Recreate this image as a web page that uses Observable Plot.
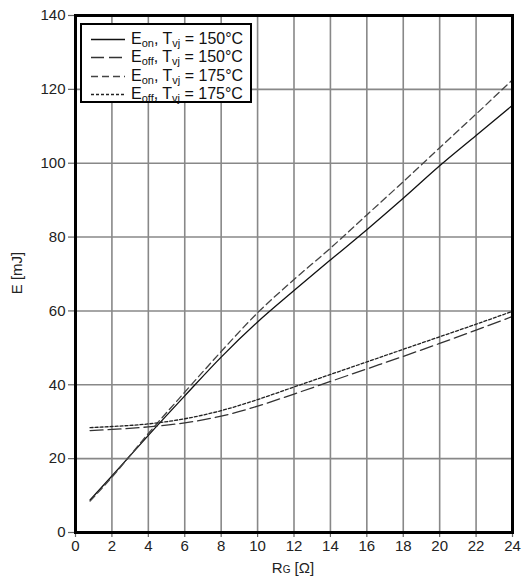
<!DOCTYPE html>
<html><head><meta charset="utf-8">
<script src="https://cdn.jsdelivr.net/npm/d3@7"></script>
<script src="https://cdn.jsdelivr.net/npm/@observablehq/plot@0.6"></script>
<style>
body{margin:0;background:#fff;font-family:"Liberation Sans",Arial,sans-serif}
#wrap{position:relative;width:524px;height:583px}
#legend{position:absolute;left:80px;top:23px;width:168px;height:76px;border:2.5px solid #000;background:#fff;font-size:16px;color:#111}
.row{position:absolute;left:8px;height:18px;line-height:18px;white-space:nowrap}
.row svg{position:absolute;left:0;top:0}
.row span{position:absolute;left:41px;top:0}
sub{font-size:11px;vertical-align:-3px;line-height:0}
</style></head><body><div id="wrap"><div id="chart"></div><div id="legend"></div></div>
<script>
const rg = [0.8, 2, 4, 6, 8, 10, 12, 14, 16, 18, 20, 22, 24];
const eon150 = [8.8, 15.3, 26.3, 37, 47.5, 57, 65.5, 73.8, 82, 90.5, 99.3, 107.5, 115.7];
const eoff150 = [27.6, 27.9, 28.6, 29.7, 31.5, 34.2, 37.5, 40.9, 44.3, 47.7, 51.2, 54.8, 58.5];
const eon175 = [8.5, 15, 26.8, 38, 49, 59.5, 68.5, 77, 86, 95, 104.2, 113.3, 122.6];
const eoff175 = [28.4, 28.7, 29.4, 30.8, 33, 36, 39.4, 42.8, 46.2, 49.6, 53, 56.4, 59.9];
const xTicks = [0, 2, 4, 6, 8, 10, 12, 14, 16, 18, 20, 22, 24];
const yTicks = [0, 20, 40, 60, 80, 100, 120, 140];
const seriesNames = ["on|150", "off|150", "on|175", "off|175"];

const styles = [
  {stroke: "#111", dash: null, width: 1.3},
  {stroke: "#333", dash: "13,5", width: 1.3},
  {stroke: "#444", dash: "7,4", width: 1.3},
  {stroke: "#222", dash: "3,2", width: 1.3}
];
const vals = [eon150, eoff150, eon175, eoff175];
const series = vals.map((v, k) => rg.map((x, i) => ({x, y: v[i], s: seriesNames[k]})));

const chart = Plot.plot({
  width: 524, height: 583,
  marginLeft: 75, marginRight: 12, marginTop: 15, marginBottom: 51,
  style: {fontFamily: '"Liberation Sans",Arial,sans-serif', fontSize: "15px", color: "#222", background: "#fff"},
  x: {domain: [0, 24], ticks: xTicks, tickSize: 5, tickPadding: 3, label: null},
  y: {domain: [0, 140], ticks: yTicks, tickSize: 7, tickPadding: 3, label: null},
  marks: [
    Plot.gridX(xTicks, {stroke: "#888", strokeWidth: 1.6, strokeOpacity: 1}),
    Plot.gridY(yTicks, {stroke: "#888", strokeWidth: 1.6, strokeOpacity: 1}),
    ...series.map((d, k) => Plot.line(d, {x: "x", y: "y", curve: "monotone-x",
      stroke: styles[k].stroke, strokeWidth: styles[k].width, strokeDasharray: styles[k].dash})),
    Plot.frame({stroke: "#000", strokeWidth: 3})
  ]
});
document.getElementById("chart").append(chart);

const svg = d3.select(chart);
svg.selectAll("[aria-label='x-axis tick'] path, [aria-label='y-axis tick'] path").attr("stroke", "#666").attr("stroke-width", 1.2);
const xl = svg.append("text").attr("x", 293).attr("y", 573).attr("text-anchor", "middle")
  .attr("font-size", 15).attr("fill", "#222");
xl.append("tspan").text("R");
xl.append("tspan").attr("font-size", 10).text("G");
xl.append("tspan").text(" [Ω]");
svg.append("text").attr("transform", "translate(22,273) rotate(-90)").attr("text-anchor", "middle")
  .attr("font-size", 15).attr("fill", "#222").text("E [mJ]");

const legend = document.getElementById("legend");
seriesNames.forEach((n, k) => {
  const [kind, temp] = n.split("|");
  const row = document.createElement("div");
  row.className = "row";
  row.style.top = (5 + k * 18.3) + "px";
  row.innerHTML = `<svg width="40" height="18"><line x1="1" x2="35" y1="9.5" y2="9.5" stroke="${styles[k].stroke}" stroke-width="1.3" ${styles[k].dash ? `stroke-dasharray="${styles[k].dash}"` : ""}/></svg><span>E<sub>${kind}</sub>, T<sub>vj</sub> = ${temp}°C</span>`;
  legend.append(row);
});
</script></body></html>
